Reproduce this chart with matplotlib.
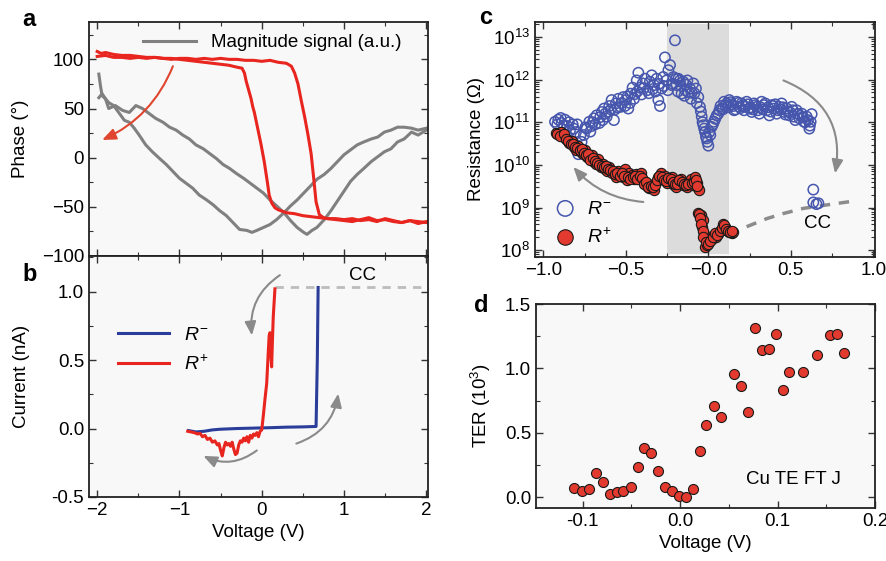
import numpy as np
import matplotlib
matplotlib.use("Agg")
import matplotlib.pyplot as plt
from matplotlib.ticker import MultipleLocator, LogLocator, NullFormatter, FormatStrFormatter

plt.rcParams["font.family"] = ["Liberation Sans", "DejaVu Sans"]
plt.rcParams["mathtext.fontset"] = "custom"
plt.rcParams["mathtext.rm"] = "Liberation Sans"
plt.rcParams["mathtext.it"] = "Liberation Sans:italic"
plt.rcParams["font.size"] = 13.5

RED = "#e8251e"
BLUE = "#2b3d9a"
GRAY = "#808080"
ARROW = "#8a8a8a"
BG = "#f8f8f8"

# ---- panel a: phase (red) and magnitude (gray) loops
phase_a_v = [-2.0, -1.95, -1.9, -1.8, -1.7, -1.6, -1.5, -1.4, -1.3, -1.2, -1.1, -1.0, -0.9, -0.8,
             -0.7, -0.6, -0.5, -0.4, -0.3, -0.24, -0.21, -0.19, -0.17, -0.15, -0.13, -0.11, -0.09,
             -0.07, -0.05, -0.03, -0.01, 0.01, 0.03, 0.05, 0.07, 0.09, 0.12, 0.16, 0.2, 0.3, 0.4,
             0.5, 0.6, 0.7, 0.8, 0.9, 1.0, 1.1, 1.2, 1.3, 1.4, 1.5, 1.6, 1.7, 1.8, 1.9, 2.0]
phase_a = [108, 106, 107, 105, 104, 104, 103, 102, 102, 101, 101, 100, 99, 98, 97, 96, 95, 94, 92,
           91, 86, 78, 72, 66, 60, 52, 46, 38, 30, 22, 14, 5, -4, -15, -26, -38, -46, -51, -53,
           -56, -57, -59, -60, -61, -62, -62, -63, -62, -64, -63, -65, -62, -64, -66, -64, -65, -66]
phase_b_v = [-2.0, -1.9, -1.8, -1.7, -1.6, -1.5, -1.4, -1.3, -1.2, -1.1, -1.0, -0.9, -0.8, -0.7,
             -0.6, -0.5, -0.4, -0.3, -0.2, -0.1, 0.0, 0.1, 0.2, 0.3, 0.36, 0.4, 0.44, 0.48, 0.52,
             0.56, 0.6, 0.63, 0.66, 0.7, 0.75, 0.8, 0.9, 1.0, 1.1, 1.2, 1.3, 1.4, 1.5, 1.6, 1.7,
             1.8, 1.9, 2.0]
phase_b = [103, 104, 102, 102, 101, 102, 101, 102, 101, 100, 101, 101, 100, 101, 100, 101, 100,
           100, 99, 99, 98, 99, 97, 96, 93, 86, 75, 58, 42, 24, 4, -20, -45, -58, -61, -62, -63,
           -64, -65, -63, -61, -64, -63, -65, -66, -64, -67, -65]

mag_a_v = [-1.98, -1.96, -1.94, -1.90, -1.86, -1.80, -1.73, -1.67, -1.61, -1.55, -1.49, -1.41,
           -1.33, -1.24, -1.16, -1.08, -1.00, -0.92, -0.84, -0.76, -0.67, -0.59, -0.51, -0.43,
           -0.35, -0.27, -0.18, -0.12, -0.06, 0.02, 0.10, 0.18, 0.27, 0.35, 0.43, 0.51, 0.59,
           0.67, 0.76, 0.84, 0.92, 1.00, 1.08, 1.16, 1.24, 1.33, 1.41, 1.49, 1.57, 1.65, 1.73,
           1.82, 1.90, 2.0]
mag_a = [85, 73, 63, 60, 56, 53, 45, 38, 36, 30, 23, 13, 6, -1, -7, -14, -21, -26, -31, -38, -43,
         -48, -54, -59, -66, -73, -74, -76, -74, -71, -68, -63, -56, -49, -43, -36, -29, -22,
         -17, -11, -4, 3, 8, 13, 16, 19, 21, 26, 28, 31, 31, 30, 28, 30]
mag_b_v = [-1.98, -1.94, -1.90, -1.86, -1.78, -1.69, -1.61, -1.53, -1.45, -1.37, -1.29, -1.20,
           -1.12, -1.04, -0.96, -0.88, -0.80, -0.71, -0.63, -0.55, -0.47, -0.39, -0.31, -0.22,
           -0.14, -0.06, 0.02, 0.10, 0.18, 0.27, 0.35, 0.43, 0.51, 0.55, 0.61, 0.67, 0.76, 0.84,
           0.92, 1.00, 1.08, 1.16, 1.24, 1.33, 1.41, 1.49, 1.57, 1.65, 1.73, 1.82, 1.90, 2.0]
mag_b = [61, 65, 60, 50, 53, 48, 46, 53, 50, 45, 40, 36, 31, 28, 23, 19, 13, 9, 4, -1, -7, -11,
         -16, -21, -26, -31, -36, -43, -49, -56, -64, -71, -76, -78, -74, -71, -63, -54, -44,
         -34, -24, -17, -11, -4, 1, 6, 9, 16, 19, 26, 23, 28]

# ---- panel b: I-V
iv_minus_v = [-0.89, -0.8, -0.7, -0.6, -0.5, -0.3, -0.1, 0.1, 0.3, 0.5, 0.66, 0.675, 0.685]
iv_minus_i = [-0.015, -0.025, -0.02, -0.01, -0.005, 0.0, 0.003, 0.006, 0.01, 0.012, 0.015, 0.5, 1.03]
iv_plus_v = [-0.9, -0.86, -0.82, -0.78, -0.75, -0.72, -0.69, -0.66, -0.63, -0.6, -0.57, -0.54,
             -0.52, -0.5, -0.48, -0.46, -0.44, -0.42, -0.4, -0.38, -0.36, -0.34, -0.32, -0.3,
             -0.28, -0.26, -0.24, -0.22, -0.2, -0.18, -0.16, -0.14, -0.12, -0.1, -0.08, -0.06,
             -0.04, -0.02, 0.0, 0.02, 0.04, 0.06, 0.08, 0.09, 0.1, 0.11, 0.12, 0.13, 0.14, 0.15,
             0.16]
iv_plus_i = [-0.02, -0.025, -0.03, -0.04, -0.035, -0.06, -0.05, -0.08, -0.07, -0.1, -0.09,
             -0.12, -0.11, -0.16, -0.2, -0.14, -0.1, -0.12, -0.11, -0.13, -0.1, -0.15, -0.19,
             -0.18, -0.12, -0.09, -0.1, -0.07, -0.09, -0.06, -0.1, -0.05, -0.07, -0.04, -0.05,
             -0.03, -0.06, -0.02, -0.01, 0.1, 0.22, 0.33, 0.57, 0.68, 0.70, 0.55, 0.45, 0.65,
             0.82, 0.92, 1.02]
cc_b_v = [0.16, 2.05]
cc_b_i = [1.03, 1.03]

# ---- panel c: resistance, stored as log10(R / ohm)
rm_v = [-0.929, -0.909, -0.889, -0.869, -0.855, -0.838, -0.822, -0.802, -0.788, -0.768, -0.754,
        -0.737, -0.721, -0.707, -0.693, -0.677, -0.661, -0.646, -0.632, -0.616, -0.600, -0.586,
        -0.572, -0.560, -0.545, -0.531, -0.515, -0.499, -0.485, -0.471, -0.459, -0.444, -0.434,
        -0.424, -0.414, -0.398, -0.384, -0.370, -0.354, -0.343, -0.329, -0.313, -0.303, -0.293,
        -0.283, -0.273, -0.263, -0.253, -0.242, -0.232, -0.222, -0.212, -0.202, -0.192, -0.182,
        -0.172, -0.162, -0.152, -0.141, -0.127, -0.111, -0.101, -0.091, -0.075, -0.061, -0.051,
        -0.040, -0.030, -0.020, -0.014, -0.006, 0.006, 0.020, 0.034, 0.051, 0.067, 0.081, 0.095,
        0.111, 0.127, 0.141, 0.156, 0.172, 0.188, 0.202, 0.216, 0.232, 0.248, 0.263, 0.277,
        0.293, 0.309, 0.323, 0.337, 0.354, 0.370, 0.384, 0.398, 0.414, 0.430, 0.444, 0.459,
        0.475, 0.491, 0.505, 0.519, 0.535, 0.552, 0.566, 0.580, 0.596, 0.612, 0.620, 0.626,
        -0.915, -0.895, -0.875, -0.845, -0.815, -0.795, -0.775, -0.745, -0.715, -0.700, -0.685,
        -0.655, -0.640, -0.625, -0.605, -0.590, -0.565, -0.550, -0.525, -0.505, -0.490, -0.475,
        -0.450, -0.430, -0.405, -0.390, -0.360, -0.335, -0.320, -0.300, -0.270, -0.245, -0.215,
        -0.195, -0.185, -0.165, -0.145, -0.135, -0.120, -0.105, -0.085, -0.070, -0.045, -0.035,
        -0.025, -0.010, 0.000, 0.012, 0.027, 0.042, 0.060, 0.074, 0.088, 0.103, 0.120, 0.135,
        0.150, 0.165, 0.180, 0.195, 0.210, 0.225, 0.240, 0.255, 0.270, 0.285, 0.300, 0.316,
        0.330, 0.345, 0.362, 0.377, 0.392, 0.405, 0.422, 0.437, 0.452, 0.467, 0.483, 0.498,
        0.512, 0.527, 0.543, 0.558, 0.573, 0.588, 0.604, 0.615,
        0.636, 0.636, 0.655, 0.667]
rm_logr = [11.01, 11.06, 10.98, 11.06, 10.91, 10.81, 10.95, 10.77, 10.25, 10.54, 10.70, 10.85,
           11.01, 10.91, 11.09, 11.16, 10.98, 11.24, 11.32, 11.13, 11.38, 11.52, 11.05, 11.44,
           11.55, 11.36, 11.59, 11.52, 11.32, 11.67, 11.81, 11.66, 11.98, 12.16, 11.81, 11.91,
           12.02, 11.75, 11.95, 12.10, 11.87, 12.02, 11.52, 11.38, 11.79, 12.06, 12.52, 11.98,
           12.22, 12.34, 11.87, 12.06, 12.92, 11.87, 12.02, 11.98, 11.67, 11.95, 11.75, 11.98,
           11.79, 11.69, 11.91, 11.79, 11.59, 11.36, 11.13, 10.93, 10.77, 10.66, 10.54, 10.77,
           10.89, 11.01, 11.16, 11.28, 11.32, 11.48, 11.44, 11.52, 11.42, 11.28, 11.48, 11.36,
           11.44, 11.28, 11.48, 11.32, 11.24, 11.44, 11.36, 11.20, 11.48, 11.40, 11.28, 11.16,
           11.40, 11.32, 11.20, 11.36, 11.44, 11.24, 11.32, 11.16, 11.36, 11.13, 11.28, 11.09,
           11.20, 11.01, 11.13, 10.85, 11.01, 11.19,
           10.95, 11.10, 10.93, 11.00, 10.85, 10.95, 10.68, 10.88, 10.78, 11.00, 10.95, 11.12,
           11.05, 11.20, 11.25, 11.30, 11.30, 11.35, 11.45, 11.38, 11.60, 11.45, 11.55, 11.72,
           11.65, 11.80, 11.68, 11.78, 11.72, 11.90, 11.85, 11.75, 11.90, 12.02, 11.72, 11.85,
           11.62, 11.88, 11.70, 11.55, 11.68, 11.45, 11.25, 11.00, 10.85, 10.62, 10.45, 10.70,
           10.95, 11.08, 11.20, 11.38, 11.30, 11.40, 11.35, 11.47, 11.38, 11.30, 11.45, 11.33,
           11.40, 11.36, 11.42, 11.35, 11.30, 11.40, 11.28, 11.35, 11.30, 11.44, 11.35, 11.25,
           11.38, 11.42, 11.28, 11.30, 11.35, 11.18, 11.25, 11.22, 11.28, 11.05, 11.20, 11.15,
           11.12, 11.00, 11.05, 10.92,
           9.42, 9.12, 9.08, 9.10]
rp_v = [-0.923, -0.909, -0.895, -0.883, -0.869, -0.855, -0.842, -0.828, -0.814, -0.802, -0.788,
        -0.774, -0.762, -0.747, -0.733, -0.721, -0.707, -0.693, -0.681, -0.667, -0.653, -0.640,
        -0.626, -0.612, -0.600, -0.586, -0.572, -0.560, -0.545, -0.531, -0.519, -0.505, -0.495,
        -0.479, -0.465, -0.451, -0.438, -0.424, -0.410, -0.398, -0.384, -0.370, -0.358, -0.343,
        -0.329, -0.317, -0.303, -0.289, -0.277, -0.263, -0.248, -0.236, -0.222, -0.208, -0.196,
        -0.182, -0.168, -0.156, -0.141, -0.127, -0.115, -0.107, -0.095, -0.081, -0.071, -0.061,
        -0.055,
        -0.915, -0.900, -0.876, -0.862, -0.848, -0.835, -0.820, -0.808, -0.795, -0.780, -0.768,
        -0.755, -0.740, -0.727, -0.714, -0.700, -0.687, -0.674, -0.660, -0.647, -0.633, -0.620,
        -0.606, -0.593, -0.579, -0.566, -0.552, -0.538, -0.525, -0.512, -0.488, -0.472, -0.458,
        -0.444, -0.431, -0.417, -0.404, -0.390, -0.377, -0.364, -0.350, -0.336, -0.323, -0.310,
        -0.296, -0.283, -0.270, -0.256, -0.242, -0.229, -0.215, -0.202, -0.189, -0.175, -0.162,
        -0.148, -0.134, -0.121, -0.101, -0.088, -0.076, -0.066,
        -0.061, -0.046, -0.034, -0.040, -0.026, -0.014, -0.020, -0.006, 0.006, 0.020, 0.034,
        0.046, 0.061, 0.075, 0.087, 0.101, 0.115, 0.127, 0.141, 0.152,
        -0.055, -0.050, -0.045, -0.035, -0.030, -0.012, 0.000, 0.012, 0.028, 0.040, 0.053,
        0.068, 0.080, 0.094, 0.108, 0.121, 0.134, 0.146]
rp_logr = [10.75, 10.72, 10.77, 10.67, 10.62, 10.58, 10.52, 10.56, 10.42, 10.36, 10.44, 10.30,
           10.25, 10.34, 10.19, 10.15, 10.23, 10.07, 10.03, 10.13, 9.95, 10.02, 9.91, 9.86, 9.95,
           9.80, 9.84, 9.72, 9.86, 9.78, 9.72, 9.91, 9.64, 9.80, 9.76, 9.68, 9.78, 9.72, 9.80,
           9.64, 9.60, 9.50, 9.45, 9.52, 9.42, 9.60, 9.72, 9.80, 9.68, 9.73, 9.58, 9.63, 9.72,
           9.52, 9.48, 9.60, 9.66, 9.52, 9.58, 9.48, 9.60, 9.66, 9.52, 9.72, 9.58, 9.45, 9.41,
           10.72, 10.68, 10.72, 10.60, 10.55, 10.48, 10.50, 10.42, 10.40, 10.35, 10.38, 10.28,
           10.22, 10.25, 10.12, 10.15, 10.10, 10.05, 10.00, 9.98, 9.95, 9.98, 9.90, 9.88, 9.85,
           9.78, 9.80, 9.75, 9.82, 9.75, 9.72, 9.68, 9.72, 9.74, 9.66, 9.75, 9.70, 9.55, 9.60,
           9.48, 9.50, 9.48, 9.52, 9.65, 9.75, 9.72, 9.65, 9.62, 9.70, 9.66, 9.60, 9.55, 9.55,
           9.65, 9.60, 9.55, 9.52, 9.55, 9.58, 9.60, 9.65, 9.50,
           8.88, 8.82, 8.70, 8.55, 8.39, 8.27, 8.08, 8.12, 8.20, 8.27, 8.35, 8.31, 8.39, 8.48,
           8.61, 8.55, 8.47, 8.43, 8.41, 8.43,
           8.85, 8.75, 8.62, 8.45, 8.30, 8.18, 8.15, 8.22, 8.30, 8.40, 8.35, 8.45, 8.52, 8.58,
           8.50, 8.45, 8.42, 8.45]
cc_c_v = [0.232, 0.354, 0.455, 0.576, 0.697, 0.879]
cc_c_logr = [8.55, 8.74, 8.86, 8.98, 9.05, 9.15]
shade_c = (-0.248, 0.127)

# ---- panel d: TER
ter_v = [-0.1085, -0.1007, -0.0932, -0.0863, -0.0788, -0.0716, -0.0648, -0.0583, -0.0504,
         -0.0436, -0.0368, -0.0296, -0.0224, -0.0152, -0.0084, -0.0015, 0.0060, 0.0128, 0.0203,
         0.0268, 0.0344, 0.0415, 0.0552, 0.0627, 0.0699, 0.0768, 0.0836, 0.0908, 0.0983, 0.1051,
         0.1120, 0.1263, 0.1403, 0.1540, 0.1612, 0.1684]
ter = [0.068, 0.05, 0.065, 0.19, 0.12, 0.02, 0.04, 0.045, 0.075, 0.23, 0.38, 0.34, 0.20, 0.08,
       0.045, 0.005, 0.0, 0.06, 0.36, 0.56, 0.71, 0.62, 0.96, 0.86, 0.66, 1.31, 1.14, 1.15, 1.27,
       0.83, 0.97, 0.97, 1.10, 1.26, 1.27, 1.12]


def style(ax):
    ax.set_facecolor(BG)
    ax.tick_params(which="both", direction="in", top=True, right=True, color="#333333")
    ax.tick_params(which="major", length=5, width=1.0, labelsize=13.5)
    ax.tick_params(which="minor", length=3, width=0.8)
    for s in ax.spines.values():
        s.set_linewidth(1.3)
        s.set_color("#222222")


def arrow(ax, start, end, rad, color=ARROW):
    ax.annotate("", xy=end, xytext=start,
                arrowprops=dict(arrowstyle="-|>,head_length=0.6,head_width=0.25", color=color,
                                lw=1.5, shrinkA=0, shrinkB=0,
                                connectionstyle=f"arc3,rad={rad}"))


fig = plt.figure(figsize=(8.87, 5.61), dpi=100)
ax_a = fig.add_axes([0.1003, 0.5437, 0.3822, 0.4171])
ax_b = fig.add_axes([0.1003, 0.1141, 0.3822, 0.4296])
ax_c = fig.add_axes([0.6032, 0.5419, 0.3833, 0.4189])
ax_d = fig.add_axes([0.6043, 0.0945, 0.3822, 0.3636])

# a
style(ax_a)
ax_a.plot(mag_a_v, mag_a, color=GRAY, lw=2.2, label="Magnitude signal (a.u.)")
ax_a.plot(mag_b_v, mag_b, color=GRAY, lw=2.2)
ax_a.plot(phase_a_v, phase_a, color=RED, lw=2.2)
ax_a.plot(phase_b_v, phase_b, color=RED, lw=2.2)
arrow(ax_a, (-1.08, 93), (-1.94, 18), -0.2, color="#e0452f")
ax_a.set_xlim(-2.1, 2.02)
ax_a.set_ylim(-100, 138)
ax_a.xaxis.set_major_locator(MultipleLocator(1))
ax_a.xaxis.set_minor_locator(MultipleLocator(0.5))
ax_a.yaxis.set_major_locator(MultipleLocator(50))
ax_a.yaxis.set_minor_locator(MultipleLocator(25))
ax_a.tick_params(labelbottom=False)
ax_a.set_ylabel("Phase (°)")
ax_a.yaxis.set_label_coords(-0.176, 0.5)
ax_a.legend(loc="upper center", bbox_to_anchor=(0.54, 1.02), frameon=False,
            handlelength=2.8, fontsize=13.5)

# b
style(ax_b)
ax_b.plot(cc_b_v, cc_b_i, color="#bcbcbc", lw=2, ls=(0, (3, 2.5)))
ax_b.plot(iv_minus_v, iv_minus_i, color=BLUE, lw=2.2, label="$R^{-}$")
ax_b.plot(iv_plus_v, iv_plus_i, color=RED, lw=2.2, label="$R^{+}$")
arrow(ax_b, (0.22, 1.12), (-0.12, 0.68), 0.3)
arrow(ax_b, (0.42, -0.11), (0.93, 0.255), 0.3)
arrow(ax_b, (-0.06, -0.16), (-0.71, -0.2), -0.3)
ax_b.text(1.23, 1.12, "CC", ha="center", va="center", fontsize=13.5)
ax_b.set_xlim(-2.1, 2.02)
ax_b.set_ylim(-0.5, 1.26)
ax_b.xaxis.set_major_locator(MultipleLocator(1))
ax_b.xaxis.set_minor_locator(MultipleLocator(0.5))
ax_b.yaxis.set_major_locator(MultipleLocator(0.5))
ax_b.yaxis.set_minor_locator(MultipleLocator(0.25))
ax_b.yaxis.set_major_formatter(FormatStrFormatter("%.1f"))
ax_b.set_xlabel("Voltage (V)")
ax_b.set_ylabel("Current (nA)")
ax_b.yaxis.set_label_coords(-0.175, 0.5)
ax_b.legend(loc="upper left", bbox_to_anchor=(0.035, 0.78), frameon=False,
            handlelength=2.6, labelspacing=0.55, fontsize=14)

# c
style(ax_c)
ax_c.set_yscale("log")
ax_c.axvspan(*shade_c, ymin=0.012, ymax=0.99, color="#dcdcdc", lw=0, zorder=0)
ax_c.plot(cc_c_v, 10 ** np.array(cc_c_logr), color="#8c8c8c", lw=2.5, ls=(0, (3, 2.5)))
ax_c.scatter(rm_v, 10 ** np.array(rm_logr), s=55, facecolor="none", edgecolor="#4656ad",
             lw=1.1, label="$R^{-}$", zorder=3)
ax_c.scatter(rp_v, 10 ** np.array(rp_logr), s=55, facecolor="#e23a2e", edgecolor="#1a1a1a",
             lw=0.8, label="$R^{+}$", zorder=4)
arrow(ax_c, (0.455, 10 ** 11.98), (0.768, 10 ** 9.80), -0.4)
arrow(ax_c, (-0.394, 10 ** 9.13), (-0.818, 10 ** 9.95), -0.2)
ax_c.text(0.66, 10 ** 8.62, "CC", ha="center", va="center", fontsize=13.5)
ax_c.set_xlim(-1.05, 1.01)
ax_c.set_ylim(10 ** 7.84, 10 ** 13.35)
ax_c.xaxis.set_minor_locator(MultipleLocator(0.25))
ax_c.set_xticks([-1.0, -0.5, 0.0, 0.5, 1.0])
ax_c.set_xticklabels(["−1.0", "−0.5", "−0.0", "0.5", "1.0"])
ax_c.yaxis.set_major_locator(LogLocator(base=10, numticks=10))
ax_c.yaxis.set_minor_locator(LogLocator(base=10, subs=np.arange(2, 10) * 1.0, numticks=10))
ax_c.yaxis.set_minor_formatter(NullFormatter())
ax_c.set_ylabel("Resistance (Ω)")
ax_c.yaxis.set_label_coords(-0.146, 0.5)
ax_c.legend(loc="lower left", bbox_to_anchor=(-0.02, -0.03), frameon=False, markerscale=1.5,
            handletextpad=0.1, labelspacing=0.5, fontsize=14)

# d
style(ax_d)
ax_d.scatter(ter_v, ter, s=52, facecolor="#e23a2e", edgecolor="#1a1a1a", lw=0.8, zorder=3)
ax_d.text(0.0675, 0.14, "Cu TE FT J", ha="left", va="center", fontsize=13.5)
ax_d.set_xlim(-0.148, 0.2)
ax_d.set_ylim(-0.085, 1.5)
ax_d.xaxis.set_major_locator(MultipleLocator(0.1))
ax_d.xaxis.set_minor_locator(MultipleLocator(0.05))
ax_d.yaxis.set_major_locator(MultipleLocator(0.5))
ax_d.yaxis.set_minor_locator(MultipleLocator(0.25))
ax_d.xaxis.set_major_formatter(FormatStrFormatter("%.1f"))
ax_d.yaxis.set_major_formatter(FormatStrFormatter("%.1f"))
ax_d.set_xlabel("Voltage (V)")
ax_d.set_ylabel("TER (10$^{3}$)")
ax_d.yaxis.set_label_coords(-0.127, 0.5)

for lbl, x, y in [("a", 0.025, 0.965), ("b", 0.025, 0.51), ("c", 0.54, 0.968), ("d", 0.534, 0.455)]:
    fig.text(x, y, lbl, fontsize=17, fontweight="bold", ha="left", va="center")

fig.savefig("out.png", dpi=100)
